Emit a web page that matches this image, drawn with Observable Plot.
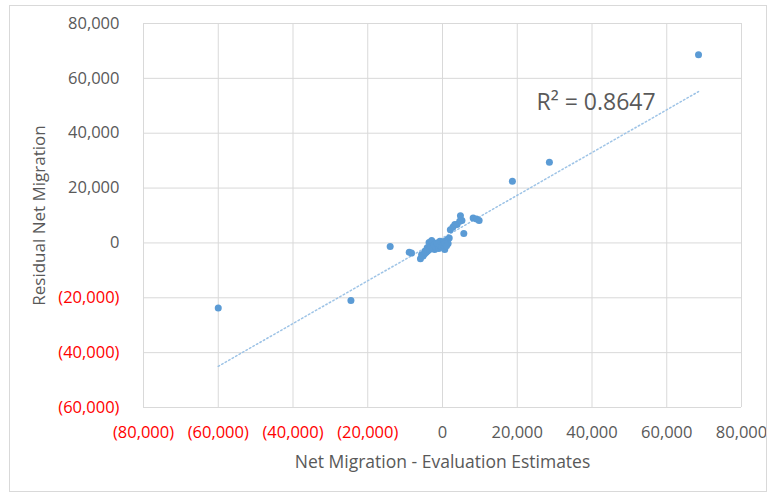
<!DOCTYPE html>
<html>
<head>
<meta charset="utf-8">
<script src="https://cdn.jsdelivr.net/npm/d3@7"></script>
<script src="https://cdn.jsdelivr.net/npm/@observablehq/plot@0.6"></script>
<style>
  html, body { margin: 0; padding: 0; background: #fff; }
  #wrap { position: relative; width: 775px; height: 493px; }
  #wrap svg { position: absolute; left: 0; top: 0; }
  #border { position: absolute; left: 9px; top: 5px; width: 756px; height: 485px; border: 1px solid #d9d9d9; pointer-events: none; }
</style>
</head>
<body>
<div id="wrap"><div id="border"></div></div>
<script>
// Net Migration - Evaluation Estimates (x) vs Residual Net Migration (y)
const evalEstimates = [
  68500, 28600, 18700, -60000, -24500, -14000, -8900, -8300, -5900, -5600,
  -4700, -4100, -3600, -2900, -2500, -2100, -1600, -1200, -700, -300,
  200, 600, 900, 1300, 1800, 2100, 2800, 3900, 4800, 5200,
  5700, 8200, 9100, 9800, -3200, -1900, 400, -3800, 1500,
  -5200, -4800, -4400, -4000, -3500, -3000, -2600, -2200, -1800, -1400,
  -1000, -600, -200, 300, 700, 1100, 4600, 3300
];
const residualNet = [
  68600, 29400, 22500, -23700, -21000, -1300, -3400, -3700, -5800, -4300,
  -3000, -1800, 200, 900, -1000, -2400, 0, -1200, 600, -200,
  -1500, -2400, 0, 1200, 1800, 4800, 5800, 6700, 9900, 8200,
  3400, 9100, 8700, 8200, -2000, -300, 500, -2600, -200,
  -4800, -4000, -3500, -2900, -2400, -1500, -1900, -700, -1500, -400,
  -2000, -900, -1400, -800, -300, -1000, 7900, 6700
];
const xTicks = [-80000, -60000, -40000, -20000, 0, 20000, 40000, 60000, 80000];
const yTicks = [-60000, -40000, -20000, 0, 20000, 40000, 60000, 80000];
const xTitle = "Net Migration - Evaluation Estimates";
const yTitle = "Residual Net Migration";
const r2Label = "R² = 0.8647";

const points = evalEstimates.map((x, i) => ({x, y: residualNet[i]}));
const comma = d3.format(",");
const fmt = v => v < 0 ? `(${comma(-v)})` : comma(v);
const grey = "#595959", red = "#ff0000";

const chart = Plot.plot({
  width: 775,
  height: 493,
  marginLeft: 143,
  marginRight: 34,
  marginTop: 23,
  marginBottom: 86,
  x: {domain: [-80000, 80000]},
  y: {domain: [-60000, 80000]},
  style: {fontFamily: "'Open Sans', sans-serif", fontSize: "16px", color: grey, background: "transparent"},
  marks: [
    Plot.gridX(xTicks, {stroke: "#d9d9d9", strokeOpacity: 1, strokeWidth: 1}),
    Plot.gridY(yTicks, {stroke: "#d9d9d9", strokeOpacity: 1, strokeWidth: 1}),
    Plot.linearRegressionY(points, {x: "x", y: "y", ci: 0, stroke: "#9dc3e6", strokeWidth: 1.5, strokeDasharray: "1.5,2.5"}),
    Plot.dot(points, {x: "x", y: "y", r: 3.5, fill: "#5b9bd5", stroke: "none"}),
    Plot.axisX(xTicks.filter(v => v < 0), {tickSize: 0, tickPadding: 19, fill: red, tickFormat: fmt, label: null, fontSize: 16.5}),
    Plot.axisX(xTicks.filter(v => v >= 0), {tickSize: 0, tickPadding: 19, fill: grey, tickFormat: fmt, label: null, fontSize: 16.5}),
    Plot.axisY(yTicks.filter(v => v < 0), {tickSize: 0, tickPadding: 24, fill: red, tickFormat: fmt, label: null, fontSize: 16.5}),
    Plot.axisY(yTicks.filter(v => v >= 0), {tickSize: 0, tickPadding: 24, fill: grey, tickFormat: fmt, label: null, fontSize: 16.5}),
    Plot.text([xTitle], {frameAnchor: "bottom", dy: 55, textAnchor: "middle", text: d => d, fill: grey, fontSize: 17.5, lineAnchor: "middle"}),
    Plot.text([yTitle], {frameAnchor: "left", dx: -104, rotate: -90, textAnchor: "middle", text: d => d, fill: grey, fontSize: 17, lineAnchor: "middle"}),
    Plot.text([r2Label], {frameAnchor: "top-left", dx: 393, dy: 79, textAnchor: "start", lineAnchor: "middle", text: d => d, fill: grey, fontSize: 23})
  ]
});
document.getElementById("wrap").prepend(chart);
</script>
</body>
</html>
